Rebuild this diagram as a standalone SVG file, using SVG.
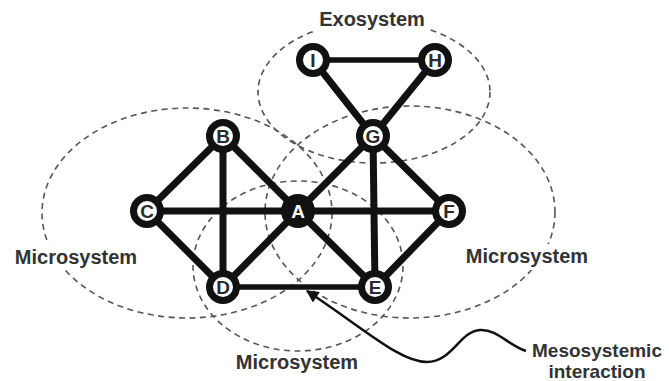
<svg xmlns="http://www.w3.org/2000/svg" width="669" height="381" viewBox="0 0 669 381">
<defs>
<style>
.sys{fill:none;stroke:#555;stroke-width:1.6;stroke-dasharray:6 4.5}
.e{stroke:#111;stroke-width:7;stroke-linecap:round}
.et{stroke:#111;stroke-width:5.5;stroke-linecap:round}
.n circle{fill:#fff;stroke:#111;stroke-width:7}
.n text{font-family:"Liberation Sans",Arial,sans-serif;font-weight:bold;font-size:19px;fill:#2a2a2a;text-anchor:middle;stroke:#fff;stroke-width:1.5;paint-order:stroke}
#nA circle{fill:#111}
#nA text{fill:#fff;stroke:none}
.lbl{font-family:"Liberation Sans",Arial,sans-serif;font-weight:bold;font-size:20px;fill:#333;text-anchor:middle}
.bg{fill:#fff}
</style>
<marker id="ah" viewBox="0 0 10 10" refX="9" refY="5" markerWidth="7" markerHeight="5" markerUnits="strokeWidth" orient="auto">
<path d="M0,0 L10,5 L0,10 z" fill="#111"/>
</marker>
</defs>
<rect width="669" height="381" fill="#fff"/>
<g id="systems">
<ellipse class="sys" cx="374" cy="92" rx="116" ry="71"/>
<ellipse class="sys" cx="187" cy="213" rx="145" ry="105"/>
<ellipse class="sys" cx="410" cy="212" rx="145" ry="106"/>
<ellipse class="sys" cx="298" cy="266" rx="105" ry="85"/>
</g>
<g id="connectors">
<line class="e" x1="223" y1="136" x2="147" y2="211"/>
<line class="e" x1="223" y1="136" x2="223" y2="287"/>
<line class="e" x1="223" y1="136" x2="298" y2="211"/>
<line class="e" x1="147" y1="211" x2="298" y2="211"/>
<line class="e" x1="147" y1="211" x2="223" y2="287"/>
<line class="e" x1="223" y1="287" x2="298" y2="211"/>
<line class="e" x1="298" y1="211" x2="373" y2="136"/>
<line class="e" x1="298" y1="211" x2="375" y2="287"/>
<line class="e" x1="298" y1="211" x2="449" y2="211"/>
<line class="e" x1="373" y1="136" x2="449" y2="211"/>
<line class="e" x1="373" y1="136" x2="375" y2="287"/>
<line class="e" x1="375" y1="287" x2="449" y2="211"/>
<line class="e" x1="373" y1="136" x2="313" y2="60"/>
<line class="e" x1="373" y1="136" x2="435" y2="60"/>
<line class="et" x1="313" y1="60" x2="435" y2="60"/>
<line class="et" x1="223" y1="287" x2="375" y2="287"/>
</g>
<g id="nB" class="n"><circle cx="223" cy="136" r="13.5"/><text x="223" y="143">B</text></g>
<g id="nC" class="n"><circle cx="147" cy="211" r="13.5"/><text x="147" y="218">C</text></g>
<g id="nA" class="n"><circle cx="298" cy="211" r="13.5"/><text x="298" y="218">A</text></g>
<g id="nD" class="n"><circle cx="223" cy="287" r="13.5"/><text x="223" y="294">D</text></g>
<g id="nE" class="n"><circle cx="375" cy="287" r="13.5"/><text x="375" y="294">E</text></g>
<g id="nF" class="n"><circle cx="449" cy="211" r="13.5"/><text x="449" y="218">F</text></g>
<g id="nG" class="n"><circle cx="373" cy="136" r="13.5"/><text x="373" y="143">G</text></g>
<g id="nI" class="n"><circle cx="313" cy="60" r="13.5"/><text x="313" y="67">I</text></g>
<g id="nH" class="n"><circle cx="435" cy="60" r="13.5"/><text x="435" y="67">H</text></g>
<g id="labels">
<rect class="bg" x="314" y="8" width="116" height="24"/>
<text class="lbl" x="372" y="26">Exosystem</text>
<rect class="bg" x="12" y="244" width="128" height="26"/>
<text class="lbl" x="76" y="264">Microsystem</text>
<rect class="bg" x="464" y="244" width="128" height="26"/>
<text class="lbl" x="527" y="263">Microsystem</text>
<rect class="bg" x="234" y="352" width="128" height="24"/>
<text class="lbl" x="297" y="369">Microsystem</text>
<text class="lbl" x="597" y="357" style="font-size:19px">Mesosystemic</text>
<text class="lbl" x="597" y="378" style="font-size:19px">interaction</text>
</g>
<g id="arrow">
<path d="M526 351 C508 345,497 329,480 330 C460 331,452 362,427 362 C400 362,366 330,307 291" fill="none" stroke="#111" stroke-width="2.5" marker-end="url(#ah)"/>
</g>
</svg>
